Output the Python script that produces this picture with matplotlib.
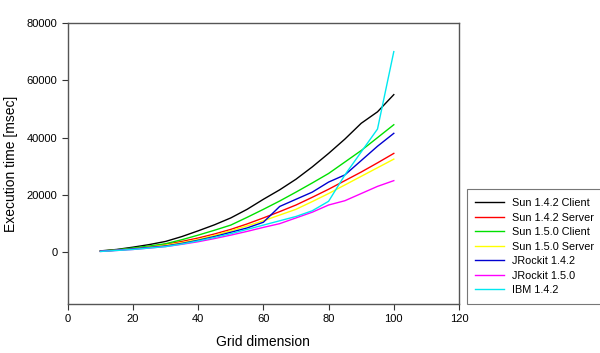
import matplotlib
matplotlib.use('Agg')
import matplotlib.pyplot as plt

plt.rcParams['font.family'] = ['Liberation Sans', 'DejaVu Sans']

grid = [10, 15, 20, 25, 30, 35, 40, 45, 50, 55, 60, 65, 70, 75, 80, 85, 90, 95, 100]

sun142_client = [500, 1000, 1800, 2700, 3800, 5500, 7500, 9600, 12000, 15000, 18500, 21800, 25500, 29800, 34500, 39500, 45000, 49000, 55000]
sun142_server = [400, 800, 1300, 2000, 2800, 3800, 5000, 6400, 8000, 9900, 12000, 14200, 16500, 19200, 22000, 25000, 28000, 31200, 34500]
sun150_client = [400, 900, 1500, 2200, 3000, 4400, 6000, 7700, 9500, 12200, 15000, 17900, 21000, 24200, 27500, 31500, 35500, 40000, 44500]
sun150_server = [350, 750, 1200, 1800, 2500, 3400, 4500, 5900, 7500, 9200, 11000, 13000, 15000, 17700, 20500, 23500, 26500, 29500, 32500]
jrockit142 = [400, 750, 1200, 1700, 2200, 3100, 4200, 5500, 7000, 8500, 10500, 16000, 18500, 21000, 24500, 27000, 32000, 37000, 41500]
jrockit150 = [300, 650, 1000, 1500, 2000, 2800, 3700, 4800, 6000, 7300, 8700, 10000, 12000, 14000, 16500, 18000, 20500, 23000, 25000]
ibm142 = [300, 650, 1000, 1500, 2000, 2900, 4000, 5200, 6500, 8000, 9500, 11000, 12500, 14500, 17800, 27000, 35000, 43000, 70000]

series = [
    ('Sun 1.4.2 Client', sun142_client, '#000000'),
    ('Sun 1.4.2 Server', sun142_server, '#ff0000'),
    ('Sun 1.5.0 Client', sun150_client, '#00e000'),
    ('Sun 1.5.0 Server', sun150_server, '#ffff00'),
    ('JRockit 1.4.2', jrockit142, '#0000d0'),
    ('JRockit 1.5.0', jrockit150, '#ff00ff'),
    ('IBM 1.4.2', ibm142, '#00e8f0'),
]

fig = plt.figure(figsize=(6, 3.53), dpi=100)
ax = fig.add_axes([0.113, 0.139, 0.652, 0.796])

for name, vals, col in series:
    ax.plot(grid, vals, color=col, lw=1.0, label=name)

ax.set_xlim(0, 120)
ax.set_ylim(-18000, 80000)
ax.set_xticks([0, 20, 40, 60, 80, 100, 120])
ax.set_yticks([0, 20000, 40000, 60000, 80000])
ax.tick_params(labelsize=8, direction='out', length=4, width=0.8, color='#333333')
for s in ax.spines.values():
    s.set_color('#555555')
    s.set_linewidth(1.0)

ax.set_xlabel('Grid dimension', fontsize=10, labelpad=8)
ax.set_ylabel('Execution time [msec]', fontsize=10, labelpad=6)

leg = ax.legend(loc='lower left', bbox_to_anchor=(0.778, 0.139), bbox_transform=fig.transFigure,
                borderaxespad=0, fontsize=7.8, fancybox=False, framealpha=1, edgecolor='#777777',
                handlelength=2.6, borderpad=0.8, labelspacing=0.42)
leg.get_frame().set_linewidth(0.8)

fig.savefig('out.png', dpi=100)
